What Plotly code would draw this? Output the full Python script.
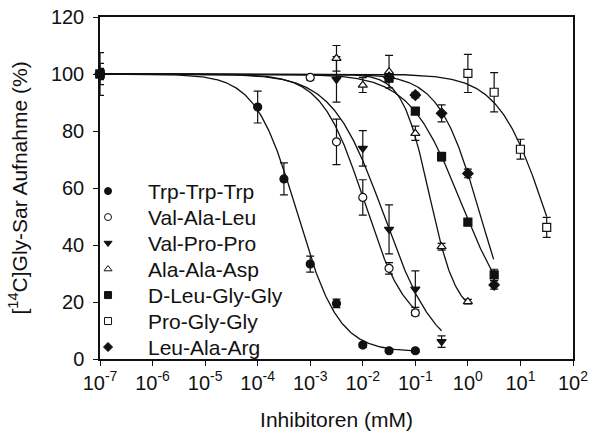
import numpy as np
import plotly.graph_objects as go

# Inhibitor concentrations (mM) and [14C]Gly-Sar uptake (% of control)
names = ["Trp-Trp-Trp", "Val-Ala-Leu", "Val-Pro-Pro", "Ala-Ala-Asp",
         "D-Leu-Gly-Gly", "Pro-Gly-Gly", "Leu-Ala-Arg"]

trp_x = [1e-7, 1e-4, 3.16e-4, 1e-3, 3.16e-3, 1e-2, 3.16e-2, 1e-1]
trp_y = [100, 88.4, 63.2, 33.3, 19.5, 4.9, 2.9, 2.9]
trp_e = [7.5, 5.6, 5.6, 2.8, 1.5, 0.8, 0.6, 0.6]

val_x = [1e-7, 1e-3, 3.16e-3, 1e-2, 3.16e-2, 1e-1]
val_y = [100, 98.8, 76.2, 56.7, 31.8, 16.2]
val_e = [3.7, 1.0, 8.0, 6.2, 2.0, 1.0]

vpp_x = [1e-7, 3.16e-3, 1e-2, 3.16e-2, 1e-1, 3.16e-1]
vpp_y = [100, 98.1, 73.9, 45.5, 24.5, 6.1]
vpp_e = [2.0, 8.0, 6.2, 8.6, 6.4, 2.0]

aaa_x = [1e-7, 3.16e-3, 1e-2, 3.16e-2, 1e-1, 3.16e-1, 1.0]
aaa_y = [100, 105.5, 96.1, 100.8, 79.2, 39.4, 20.1]
aaa_e = [1.5, 4.5, 2.6, 5.7, 2.5, 1.2, 0.8]

dlg_x = [1e-7, 3.16e-2, 1e-1, 3.16e-1, 1.0, 3.16]
dlg_y = [100, 98.5, 87.0, 71.0, 48.0, 29.5]
dlg_e = [1.5, 1.0, 1.0, 1.5, 1.0, 2.0]

pgg_x = [1e-7, 1.0, 3.16, 10.0, 31.6]
pgg_y = [100, 100.2, 93.6, 73.6, 46.2]
pgg_e = [1.0, 6.7, 6.9, 3.5, 3.5]

lar_x = [1e-7, 3.16e-2, 1e-1, 3.16e-1, 1.0, 3.16]
lar_y = [100, 98.8, 92.6, 86.2, 65.1, 26.0]
lar_e = [1.0, 1.0, 1.0, 3.0, 1.5, 1.5]

xs = [trp_x, val_x, vpp_x, aaa_x, dlg_x, pgg_x, lar_x]
ys = [trp_y, val_y, vpp_y, aaa_y, dlg_y, pgg_y, lar_y]
es = [trp_e, val_e, vpp_e, aaa_e, dlg_e, pgg_e, lar_e]

# Sigmoidal fit parameters (top = 100): bottom, log10 IC50, Hill slope, curve end (log10 mM)
fit_bottom = [2.5, 10.0, 0.0, 15.0, 10.0, 0.0, 0.0]
fit_logic50 = [-3.25, -1.97, -1.59, -0.732, -0.133, 1.5, 0.245]
fit_hill = [1.1, 1.08, 0.88, 1.7, 0.88, 0.95, 1.1]
fit_end = [-1.0, -1.0, -0.5, 0.0, 0.49, 1.5, 0.49]

symbols = ["circle", "circle", "triangle-down", "triangle-up",
           "square", "square", "diamond"]
filled = [True, False, True, False, True, False, True]
draw_order = [0, 1, 2, 3, 5, 6, 4]

x_tickvals = [1e-7, 1e-6, 1e-5, 1e-4, 1e-3, 1e-2, 1e-1, 1e0, 1e1, 1e2]
x_ticktext = ["10<sup>-7</sup>", "10<sup>-6</sup>", "10<sup>-5</sup>", "10<sup>-4</sup>",
              "10<sup>-3</sup>", "10<sup>-2</sup>", "10<sup>-1</sup>", "10<sup>0</sup>",
              "10<sup>1</sup>", "10<sup>2</sup>"]
y_tickvals = [0, 20, 40, 60, 80, 100, 120]

FONT = "Liberation Sans, Arial, sans-serif"
INK = "#111111"

# key placement, as fractions of the plotting area
KEY_SYMBOL_X = 0.017
KEY_TEXT_X = 0.097
KEY_TOP = 0.491
KEY_STEP = 0.076

fig = go.Figure()

# fitted dose-response curves
for i in range(len(names)):
    lx = np.linspace(-7, fit_end[i], 400)
    b = fit_bottom[i]
    cy = b + (100 - b) / (1 + 10 ** (fit_hill[i] * (lx - fit_logic50[i])))
    fig.add_trace(go.Scatter(x=10 ** lx, y=cy, mode="lines",
                             line=dict(color=INK, width=1.3),
                             showlegend=False, hoverinfo="skip"))

# measured points with error bars
for i in draw_order:
    fig.add_trace(go.Scatter(
        x=xs[i], y=ys[i], mode="markers", name=names[i], showlegend=False,
        cliponaxis=False,
        marker=dict(symbol=symbols[i], size=8,
                    color=INK if filled[i] else "white",
                    line=dict(color=INK, width=1.2)),
        error_y=dict(type="data", array=es[i], color=INK, thickness=1.2, width=4),
    ))

# key: symbols on an overlay axis spanning the plotting area, names as annotations
key_y = [KEY_TOP - k * KEY_STEP for k in range(len(names))]
for i in range(len(names)):
    fig.add_trace(go.Scatter(
        x=[KEY_SYMBOL_X], y=[key_y[i]], xaxis="x2", yaxis="y2",
        mode="markers", showlegend=False, hoverinfo="skip", cliponaxis=False,
        marker=dict(symbol=symbols[i], size=7,
                    color=INK if filled[i] else "white",
                    line=dict(color=INK, width=1)),
    ))
    fig.add_annotation(x=KEY_TEXT_X, y=key_y[i], xref="paper", yref="paper",
                       text=names[i], showarrow=False, xanchor="left",
                       yanchor="middle", font=dict(size=21, color=INK, family=FONT))

fig.update_layout(
    width=591, height=437,
    margin=dict(l=100, r=18, t=17, b=78),
    paper_bgcolor="white", plot_bgcolor="white",
    font=dict(family=FONT, size=20, color=INK),
    showlegend=False,
    xaxis=dict(type="log", range=[-7, 2], tickvals=x_tickvals, ticktext=x_ticktext,
               ticks="outside", ticklen=5, tickwidth=1.3, tickcolor=INK,
               showline=True, linecolor=INK, linewidth=1.5, mirror=True,
               showgrid=False, zeroline=False, automargin=False,
               title=dict(text="Inhibitoren (mM)", font=dict(size=21), standoff=20)),
    yaxis=dict(range=[0, 120], tickvals=y_tickvals,
               ticks="outside", ticklen=5, tickwidth=1.3, tickcolor=INK,
               ticklabelstandoff=5,
               showline=True, linecolor=INK, linewidth=1.5, mirror=True,
               showgrid=False, zeroline=False, automargin=False,
               title=dict(text="[<sup>14</sup>C]Gly-Sar Aufnahme (%)", font=dict(size=21),
                          standoff=18)),
    xaxis2=dict(overlaying="x", anchor="y2", range=[0, 1], visible=False),
    yaxis2=dict(overlaying="y", anchor="x2", range=[0, 1], visible=False),
)

fig.write_html("out.html")
